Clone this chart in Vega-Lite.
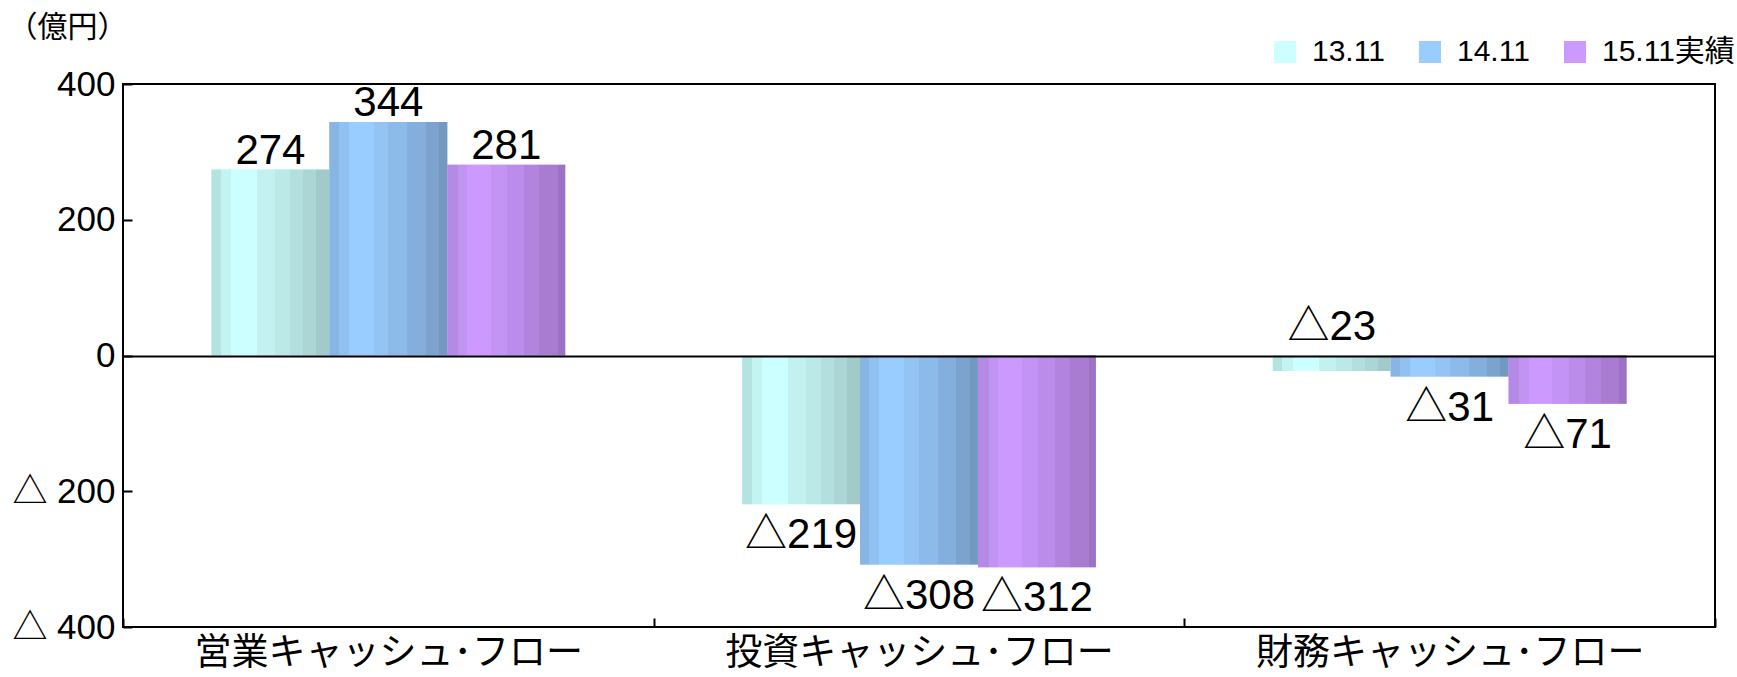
{
  "$schema": "https://vega.github.io/schema/vega-lite/v6.json",
  "width": 1592,
  "height": 543,
  "autosize": {"type": "none"},
  "padding": {"left": 123, "top": 84, "right": 22, "bottom": 50},
  "config": {"view": {"stroke": "black", "strokeWidth": 2}, "font": "Liberation Sans"},
  "data": {
    "values": [
      {"category": "営業キャッシュ･フロー", "series": "13.11", "value": 274, "label": "274"},
      {"category": "営業キャッシュ･フロー", "series": "14.11", "value": 344, "label": "344"},
      {"category": "営業キャッシュ･フロー", "series": "15.11実績", "value": 281, "label": "281"},
      {"category": "投資キャッシュ･フロー", "series": "13.11", "value": -219, "label": "△219"},
      {"category": "投資キャッシュ･フロー", "series": "14.11", "value": -308, "label": "△308"},
      {"category": "投資キャッシュ･フロー", "series": "15.11実績", "value": -312, "label": "△312"},
      {"category": "財務キャッシュ･フロー", "series": "13.11", "value": -23, "label": "△23"},
      {"category": "財務キャッシュ･フロー", "series": "14.11", "value": -31, "label": "△31"},
      {"category": "財務キャッシュ･フロー", "series": "15.11実績", "value": -71, "label": "△71"}
    ]
  },
  "encoding": {
    "x": {
      "field": "category", "type": "nominal",
      "sort": ["営業キャッシュ･フロー", "投資キャッシュ･フロー", "財務キャッシュ･フロー"],
      "scale": {"paddingInner": 0, "paddingOuter": 0},
      "axis": {
        "title": null, "labelAngle": 0, "domain": false, "tickBand": "extent",
        "tickSize": -9, "tickWidth": 2, "tickColor": "black",
        "labelFont": "Noto Sans CJK JP", "labelFontSize": 37, "labelColor": "black",
        "labelPadding": 17, "labelBaseline": "top", "labelLimit": 0
      }
    },
    "xOffset": {
      "field": "series", "type": "nominal",
      "sort": ["13.11", "14.11", "15.11実績"],
      "scale": {"paddingInner": 0, "paddingOuter": 0.75}
    },
    "y": {
      "field": "value", "type": "quantitative",
      "scale": {"domain": [-400, 400], "nice": false},
      "axis": {
        "title": "（億円）", "titleAngle": 0, "titleX": -116, "titleY": -57,
        "titleAlign": "left", "titleBaseline": "middle",
        "titleFont": "Noto Sans CJK JP", "titleFontSize": 30, "titleFontWeight": "normal", "titleColor": "black",
        "values": [-400, -200, 0, 200, 400],
        "labelExpr": "datum.value < 0 ? '△ ' + abs(datum.value) : '' + datum.value",
        "labelFont": "Liberation Sans, Noto Sans CJK JP", "labelFontSize": 35, "labelColor": "black",
        "labelPadding": 17,
        "domain": false, "tickSize": -9, "tickWidth": 2, "tickColor": "black",
        "grid": true,
        "gridColor": {"condition": {"test": "datum.value === 0", "value": "black"}, "value": "transparent"},
        "gridWidth": 2, "zindex": 1
      }
    }
  },
  "layer": [
    {
      "mark": {"type": "bar"},
      "encoding": {
        "color": {
          "field": "series", "type": "nominal",
          "scale": {"domain": ["13.11", "14.11", "15.11実績"], "range": ["#ccffff", "#99ccff", "#cc99ff"]},
          "legend": {
            "title": null, "orient": "none", "legendX": 1147, "legendY": -47,
            "direction": "horizontal", "symbolType": "square", "symbolSize": 484,
            "symbolStrokeWidth": 0, "symbolOpacity": 1,
            "labelFont": "Liberation Sans, Noto Sans CJK JP", "labelFontSize": 30, "labelColor": "black",
            "labelOffset": 12, "columnPadding": 30, "padding": 0
          }
        }
      }
    },
    {
      "transform": [{"filter": "datum.series === '13.11'"}],
      "mark": {"type": "bar", "fill": {"gradient": "linear", "x1": 0, "y1": 0, "x2": 1, "y2": 0, "stops": [
        {"offset": 0, "color": "#b4e4e2"}, {"offset": 0.08, "color": "#b4e4e2"},
        {"offset": 0.08, "color": "#c3f4f2"}, {"offset": 0.17, "color": "#c3f4f2"},
        {"offset": 0.17, "color": "#ccffff"}, {"offset": 0.39, "color": "#ccffff"},
        {"offset": 0.39, "color": "#c2f1f0"}, {"offset": 0.54, "color": "#c2f1f0"},
        {"offset": 0.54, "color": "#bbe9e8"}, {"offset": 0.67, "color": "#bbe9e8"},
        {"offset": 0.67, "color": "#b3dfde"}, {"offset": 0.78, "color": "#b3dfde"},
        {"offset": 0.78, "color": "#abd6d5"}, {"offset": 0.89, "color": "#abd6d5"},
        {"offset": 0.89, "color": "#a2cac9"}, {"offset": 1, "color": "#a2cac9"}
      ]}}
    },
    {
      "transform": [{"filter": "datum.series === '14.11'"}],
      "mark": {"type": "bar", "fill": {"gradient": "linear", "x1": 0, "y1": 0, "x2": 1, "y2": 0, "stops": [
        {"offset": 0, "color": "#88b5e3"}, {"offset": 0.08, "color": "#88b5e3"},
        {"offset": 0.08, "color": "#91c1f1"}, {"offset": 0.165, "color": "#91c1f1"},
        {"offset": 0.165, "color": "#99ccff"}, {"offset": 0.377, "color": "#99ccff"},
        {"offset": 0.377, "color": "#94c4f4"}, {"offset": 0.5, "color": "#94c4f4"},
        {"offset": 0.5, "color": "#8cbae9"}, {"offset": 0.66, "color": "#8cbae9"},
        {"offset": 0.66, "color": "#84afdc"}, {"offset": 0.816, "color": "#84afdc"},
        {"offset": 0.816, "color": "#7ba3ce"}, {"offset": 0.93, "color": "#7ba3ce"},
        {"offset": 0.93, "color": "#7399c0"}, {"offset": 1, "color": "#7399c0"}
      ]}}
    },
    {
      "transform": [{"filter": "datum.series === '15.11実績'"}],
      "mark": {"type": "bar", "fill": {"gradient": "linear", "x1": 0, "y1": 0, "x2": 1, "y2": 0, "stops": [
        {"offset": 0, "color": "#b58ae4"}, {"offset": 0.09, "color": "#b58ae4"},
        {"offset": 0.09, "color": "#c194f2"}, {"offset": 0.17, "color": "#c194f2"},
        {"offset": 0.17, "color": "#cc99ff"}, {"offset": 0.37, "color": "#cc99ff"},
        {"offset": 0.37, "color": "#c494f4"}, {"offset": 0.51, "color": "#c494f4"},
        {"offset": 0.51, "color": "#bb8ce9"}, {"offset": 0.65, "color": "#bb8ce9"},
        {"offset": 0.65, "color": "#b384de"}, {"offset": 0.78, "color": "#b384de"},
        {"offset": 0.78, "color": "#a97cd2"}, {"offset": 0.94, "color": "#a97cd2"},
        {"offset": 0.94, "color": "#9c73c4"}, {"offset": 1, "color": "#9c73c4"}
      ]}}
    },
    {
      "transform": [{"filter": "datum.value > 0"}],
      "mark": {"type": "text", "baseline": "alphabetic", "dy": -6, "font": "Liberation Sans, Noto Sans CJK JP", "fontSize": 42, "color": "black"},
      "encoding": {"text": {"field": "label"}}
    },
    {
      "transform": [{"filter": "datum.value < 0 && !(datum.series === '13.11' && datum.category === '財務キャッシュ･フロー')"}],
      "mark": {"type": "text", "baseline": "alphabetic", "dy": 44, "font": "Liberation Sans, Noto Sans CJK JP", "fontSize": 42, "color": "black"},
      "encoding": {"text": {"field": "label"}}
    },
    {
      "transform": [{"filter": "datum.series === '13.11' && datum.category === '財務キャッシュ･フロー'"}],
      "mark": {"type": "text", "baseline": "alphabetic", "dy": -16, "font": "Liberation Sans, Noto Sans CJK JP", "fontSize": 42, "color": "black"},
      "encoding": {"y": {"datum": 0}, "text": {"field": "label"}}
    }
  ]
}
